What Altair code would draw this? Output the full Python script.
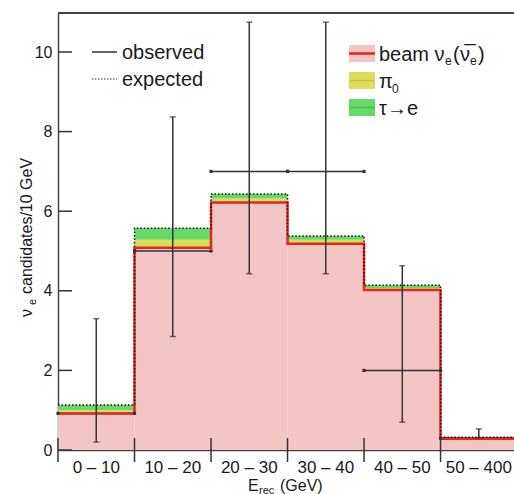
import altair as alt
import pandas as pd

# ---------------- data ----------------
bins = ["0 – 10", "10 – 20", "20 – 30", "30 – 40", "40 – 50", "50 – 400"]
beam = [0.92, 5.08, 6.22, 5.18, 4.02, 0.28]
pi0 = [0.08, 0.20, 0.10, 0.10, 0.05, 0.02]
tau = [0.13, 0.29, 0.11, 0.10, 0.07, 0.02]
obs = [0.92, 5.00, 7.00, 7.00, 2.00, 0.30]
obs_lo = [0.20, 2.85, 4.43, 4.43, 0.70, 0.30]
obs_hi = [3.30, 8.37, 10.75, 10.75, 4.63, 0.53]
y_ticks = [0, 2, 4, 6, 8, 10]
legend_left = ["observed", "expected"]

FONT = "Liberation Sans"
TXT = "#1a1a1a"
PINK = "#f3c5c5"
RED = "#e3261f"
YEL = "#dcdc5c"
GRN = "#66d966"
BLK = "#333333"

W, H = 456, 437
n = len(bins)
df = pd.DataFrame({
    "bin": bins,
    "lo": list(range(n)),
    "hi": [i + 1 for i in range(n)],
    "mid": [i + 0.5 for i in range(n)],
    "beam": beam,
    "pi0": pi0,
    "tau": tau,
    "obs": obs,
    "elo": obs_lo,
    "ehi": obs_hi,
})
df["bp"] = df["beam"] + df["pi0"]
df["tot"] = df["bp"] + df["tau"]

step = pd.DataFrame({
    "edge": list(range(n + 1)),
    "beam": beam + [beam[-1]],
    "tot": list(df["tot"]) + [df["tot"].iloc[-1]],
})
edges = pd.DataFrame({"edge": list(range(n))})
yt = pd.DataFrame({"v": y_ticks})
one = pd.DataFrame({"k": [0]})

xs = alt.Scale(domain=[0, 5.96], nice=False, zero=False)
ys = alt.Scale(domain=[0, 10.98], nice=False, zero=False)
XAX = alt.Axis(labels=False, ticks=False, grid=False, domainColor="#444", domainWidth=1.5,
               title=None)
YAX = alt.Axis(values=y_ticks, ticks=False, grid=False, domainColor="#444", domainWidth=1.5,
               labelFont=FONT, labelFontSize=16, labelColor=TXT, labelPadding=6, title=None)


def X(f):
    return alt.X(f, type="quantitative", scale=xs, axis=XAX)


def Y(f):
    return alt.Y(f, type="quantitative", scale=ys, axis=YAX)


base = alt.Chart(df)

pink = base.mark_rect(color=PINK).encode(x=X("lo"), x2="hi", y=Y("beam"), y2=alt.datum(0))
yel = base.mark_rect(color=YEL).encode(x=X("lo"), x2="hi", y=Y("beam"), y2="bp")
grn = base.mark_rect(color=GRN).encode(x=X("lo"), x2="hi", y=Y("bp"), y2="tot")

obs_h = base.mark_rule(color=BLK, strokeWidth=1.5).encode(x=X("lo"), x2="hi", y=Y("obs"))
red_step = alt.Chart(step).mark_line(color=RED, strokeWidth=2.5, interpolate="step-after").encode(
    x=X("edge"), y=Y("beam"))
exp_step = alt.Chart(step).mark_line(color="#111", strokeWidth=1.5, strokeDash=[1.5, 2],
                                     interpolate="step-after").encode(x=X("edge"), y=Y("tot"))

err_v = base.mark_rule(color=BLK, strokeWidth=1.5).encode(x=X("mid"), y=Y("elo"), y2="ehi")
cap_lo = base.mark_tick(color=BLK, orient="horizontal", size=6, thickness=1.5).encode(
    x=X("mid"), y=Y("elo"))
cap_hi = base.mark_tick(color=BLK, orient="horizontal", size=6, thickness=1.5).encode(
    x=X("mid"), y=Y("ehi"))
end_l = base.mark_square(color=BLK, size=10, opacity=1).encode(x=X("lo"), y=Y("obs"))
end_r = base.mark_square(color=BLK, size=10, opacity=1).encode(x=X("hi"), y=Y("obs"))

# tick marks
xt = alt.Chart(edges).mark_rule(color=BLK, strokeWidth=1.5).encode(
    x=X("edge"), y=alt.value(H - 12), y2=alt.value(H + 12))
ytk = alt.Chart(yt).mark_rule(color=BLK, strokeWidth=1.5).encode(
    y=Y("v"), x=alt.value(0), x2=alt.value(14))
top = alt.Chart(one).mark_rule(color="#444", strokeWidth=2).encode(
    x=alt.value(0), x2=alt.value(W + 5), y=alt.value(0))

xlab = base.mark_text(font=FONT, fontSize=17, color=TXT, baseline="alphabetic").encode(
    x=X("mid"), y=alt.value(H + 23), text="bin:N")


def txt(s, x, y, size, angle=0, align="left", baseline="alphabetic"):
    return alt.Chart(one).mark_text(text=s, font=FONT, fontSize=size, color=TXT, align=align,
                                    baseline=baseline, angle=angle).encode(
        x=alt.value(x), y=alt.value(y))


def rule(x1, x2, y, color, width=1.5, dash=None):
    kw = dict(color=color, strokeWidth=width)
    if dash:
        kw["strokeDash"] = dash
    return alt.Chart(one).mark_rule(**kw).encode(x=alt.value(x1), x2=alt.value(x2), y=alt.value(y))


def box(x1, x2, y1, y2, color):
    return alt.Chart(one).mark_rect(color=color).encode(
        x=alt.value(x1), x2=alt.value(x2), y=alt.value(y1), y2=alt.value(y2))


# axis titles
titles = [
    txt("E", 190, 478, 16),
    txt("rec", 201, 481, 11),
    txt("(GeV)", 222, 478, 16),
    txt("ν", -26, 304, 16, angle=270),
    txt("e", -22, 292, 11, angle=270),
    txt("candidates/10 GeV", -26, 281, 16, angle=270),
]

# legends
leg = [
    rule(34, 59, 39, BLK, 1.5),
    txt(legend_left[0], 64, 46, 20),
    rule(34, 59, 66, BLK, 1.2, [1.5, 1.5]),
    txt(legend_left[1], 64, 73, 20),
    box(291, 317, 32, 49, PINK), rule(291, 317, 40.5, RED, 2.5),
    box(291, 317, 59, 76, YEL), rule(291, 317, 67.5, "#c4c442", 1.5),
    box(291, 317, 86, 103, GRN), rule(291, 317, 94.5, "#44c44c", 1.5),
    txt("beam ν", 321, 48, 20),
    txt("e", 387, 52, 12),
    txt("(", 395, 48, 20),
    txt("ν\u0305", 402, 48, 20),
    txt("e", 412, 52, 12),
    txt(")", 420, 48, 20),
    txt("π", 321, 75, 20),
    txt("0", 334, 80, 12),
    txt("τ→e", 321, 102, 20),
]

chart = alt.layer(
    pink, yel, grn, obs_h, red_step, exp_step, err_v, cap_lo, cap_hi, end_l, end_r,
    xt, ytk, top, xlab, *titles, *leg
).properties(
    width=W, height=H,
    autosize=alt.AutoSizeParams(type="none"),
    padding={"left": 58, "top": 13, "right": 0, "bottom": 44},
    background="white",
).configure_view(stroke=None)

chart.save("out.html", embed_options={"renderer": "svg", "actions": False})
